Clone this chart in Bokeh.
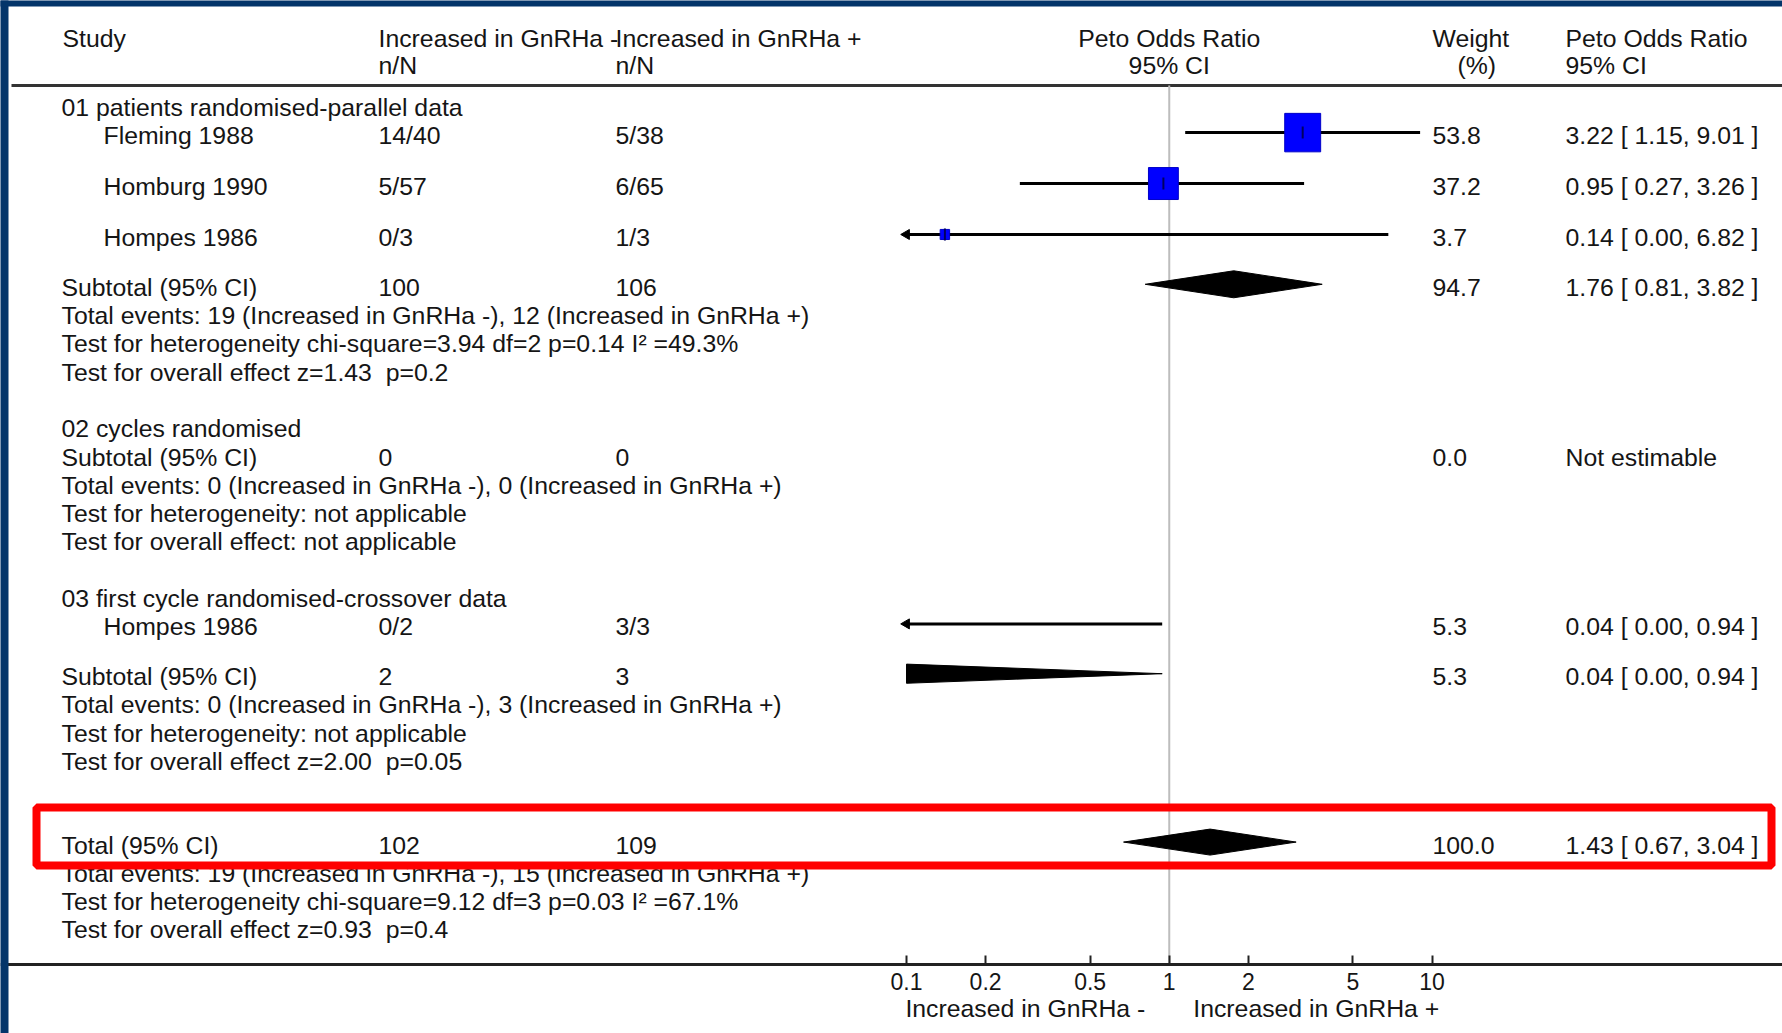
import math
from bokeh.plotting import figure
from bokeh.models import (Range1d, LogScale, LogAxis, FixedTicker,
                          CustomJSTickFormatter)
from bokeh.core.properties import value
from bokeh.embed import file_html
from bokeh.resources import INLINE

# ---------------- data ----------------
group_titles = ["01 patients randomised-parallel data",
                "02 cycles randomised",
                "03 first cycle randomised-crossover data"]

study_group = [0, 0, 0, 2]
study_names = ["Fleming 1988", "Homburg 1990", "Hompes 1986", "Hompes 1986"]
study_neg = ["14/40", "5/57", "0/3", "0/2"]
study_pos = ["5/38", "6/65", "1/3", "3/3"]
study_or = [3.22, 0.95, 0.14, 0.04]
study_lo = [1.15, 0.27, 0.00, 0.00]
study_hi = [9.01, 3.26, 6.82, 0.94]
study_weight = [53.8, 37.2, 3.7, 5.3]

sub_neg = ["100", "0", "2"]
sub_pos = ["106", "0", "3"]
sub_or = [1.76, None, 0.04]
sub_lo = [0.81, None, 0.00]
sub_hi = [3.82, None, 0.94]
sub_weight = [94.7, 0.0, 5.3]
sub_events_neg = [19, 0, 0]
sub_events_pos = [12, 0, 3]
sub_het = ["chi-square=3.94 df=2 p=0.14 I\u00b2 =49.3%", None, None]
sub_overall = ["z=1.43  p=0.2", None, "z=2.00  p=0.05"]

total_neg = "102"
total_pos = "109"
total_or = 1.43
total_lo = 0.67
total_hi = 3.04
total_weight = 100.0
total_events_neg = 19
total_events_pos = 15
total_het = "chi-square=9.12 df=3 p=0.03 I\u00b2 =67.1%"
total_overall = "z=0.93  p=0.4"

tick_values = [0.1, 0.2, 0.5, 1, 2, 5, 10]
tick_labels = ["0.1", "0.2", "0.5", "1", "2", "5", "10"]
favours = ["Increased in GnRHa -", "Increased in GnRHa +"]

# ---------------- layout ----------------
W, H = 1782, 1033
X01, X10 = 906.0, 1431.5          # pixel positions of 0.1 and 10
DEC = (X10 - X01) / 2.0
LOG_MIN, LOG_MAX = -1.0, 1.0
or_start = 10 ** (LOG_MIN - X01 / DEC)
or_end = 10 ** (LOG_MAX + (W - X10) / DEC)

FONT_NAME = "Liberation Sans"
FONT = value(FONT_NAME)
FS = value("24.8px")
TXT = "#151515"
BASE = 0.0      # svg text is centred on the given y
MARK = -3.0     # marks sit slightly above the text centre
L = 28.3

X_LBL, X_STUDY, X_NEG, X_POS, X_W, X_CI = 61, 103, 378, 615, 1432, 1565

p = figure(width=W, height=H, x_range=Range1d(0, W), y_range=Range1d(H, 0),
           output_backend="svg", toolbar_location=None, min_border=0,
           x_axis_location=None, y_axis_location=None)
p.outline_line_color = None
p.background_fill_color = "white"
p.border_fill_color = "white"
p.grid.visible = False
p.xgrid.visible = False
p.ygrid.visible = False
p.extra_x_ranges = {"or": Range1d(or_start, or_end)}
p.extra_x_scales = {"or": LogScale()}

# text collections
tx, ty, tt = [], [], []
cx, cy, ct = [], [], []


def sp(s):
    return s.replace("  ", "\u00a0\u00a0")


def put(x, y, s):
    tx.append(x); ty.append(y + BASE); tt.append(sp(s))


def fmt_ci(o, lo, hi):
    return f"{o:.2f} [ {lo:.2f}, {hi:.2f} ]"


# header
put(62, 37.5, "Study")
put(X_NEG, 37.5, favours[0])
put(X_NEG, 64.8, "n/N")
put(X_POS, 37.5, favours[1])
put(X_POS, 64.8, "n/N")
put(X_W, 37.5, "Weight")
put(1457, 64.8, "(%)")
put(X_CI, 37.5, "Peto Odds Ratio")
put(X_CI, 64.8, "95% CI")
cx += [1, 1]; cy += [37.5 + BASE, 64.8 + BASE]; ct += ["Peto Odds Ratio", "95% CI"]

# marks
sq_x, sq_y, sq_w, sq_h = [], [], [], []
ln_x0, ln_x1, ln_y = [], [], []
ar_x, ar_y = [], []
dia_xs, dia_ys = [], []


def clip_line(o, lo, hi, y):
    lo_c = max(lo, 10 ** LOG_MIN)
    hi_c = min(hi, 10 ** LOG_MAX)
    ln_x0.append(lo_c); ln_x1.append(hi_c); ln_y.append(y)
    if lo < 10 ** LOG_MIN:
        ar_x.append(10 ** LOG_MIN); ar_y.append(y)


def diamond(o, lo, hi, y, h):
    lg = lambda v: math.log10(max(v, 1e-4))
    pts = [(lg(lo), y), (lg(o), y - h), (lg(hi), y), (lg(o), y + h)]
    out = []
    for k in range(len(pts)):
        a, b = pts[k], pts[(k + 1) % len(pts)]
        ain, bin_ = a[0] >= LOG_MIN, b[0] >= LOG_MIN
        if ain:
            out.append(a)
        if ain != bin_:
            t = (LOG_MIN - a[0]) / (b[0] - a[0])
            out.append((LOG_MIN, a[1] + t * (b[1] - a[1])))
    dia_xs.append([10 ** q[0] for q in out])
    dia_ys.append([q[1] for q in out])


y = 106.8
for g, title in enumerate(group_titles):
    put(X_LBL, y, title)
    idx = [i for i in range(len(study_names)) if study_group[i] == g]
    for k, i in enumerate(idx):
        y += L if k == 0 else 1.8 * L
        put(X_STUDY, y, study_names[i])
        put(X_NEG, y, study_neg[i])
        put(X_POS, y, study_pos[i])
        put(X_W, y, f"{study_weight[i]:.1f}")
        put(X_CI, y, fmt_ci(study_or[i], study_lo[i], study_hi[i]))
        clip_line(study_or[i], study_lo[i], study_hi[i], y + MARK)
        if 10 ** LOG_MIN <= study_or[i] <= 10 ** LOG_MAX:
            w = 4.9 * math.sqrt(study_weight[i])
            sq_x.append(study_or[i]); sq_y.append(y + MARK)
            sq_w.append(w); sq_h.append(1.07 * w)
    y += 1.76 * L if idx else L
    put(X_LBL, y, "Subtotal (95% CI)")
    put(X_NEG, y, sub_neg[g])
    put(X_POS, y, sub_pos[g])
    put(X_W, y, f"{sub_weight[g]:.1f}")
    if sub_or[g] is None:
        put(X_CI, y, "Not estimable")
    else:
        put(X_CI, y, fmt_ci(sub_or[g], sub_lo[g], sub_hi[g]))
        diamond(sub_or[g], sub_lo[g], sub_hi[g], y + MARK, 13.5)
    y += L
    put(X_LBL, y, f"Total events: {sub_events_neg[g]} ({favours[0]}), "
                  f"{sub_events_pos[g]} ({favours[1]})")
    y += L
    put(X_LBL, y, "Test for heterogeneity " + sub_het[g] if sub_het[g]
        else "Test for heterogeneity: not applicable")
    y += L
    put(X_LBL, y, "Test for overall effect " + sub_overall[g] if sub_overall[g]
        else "Test for overall effect: not applicable")
    y += 2 * L

y += 0.95 * L
put(X_LBL, y, "Total (95% CI)")
put(X_NEG, y, total_neg)
put(X_POS, y, total_pos)
put(X_W, y, f"{total_weight:.1f}")
put(X_CI, y, fmt_ci(total_or, total_lo, total_hi))
diamond(total_or, total_lo, total_hi, y + MARK, 13.0)
y += L
put(X_LBL, y, f"Total events: {total_events_neg} ({favours[0]}), "
              f"{total_events_pos} ({favours[1]})")
y += L
put(X_LBL, y, "Test for heterogeneity " + total_het)
y += L
put(X_LBL, y, "Test for overall effect " + total_overall)

# ---- lines: header rule, reference line ----
p.segment(x0=[11], x1=[W], y0=[85], y1=[85], line_color="#333333", line_width=3)
p.segment(x0=[1], x1=[1], y0=[85], y1=[964], line_color="#bdbdbd",
          line_width=2, x_range_name="or")

# CI lines
p.segment(x0=ln_x0, x1=ln_x1, y0=ln_y, y1=ln_y, line_color="black",
          line_width=3, x_range_name="or")
p.scatter(x=ar_x, y=ar_y, marker="triangle", angle=math.pi / 2, size=10,
          fill_color="black", line_color="black", x_range_name="or")
# squares
p.rect(x=sq_x, y=sq_y, width=sq_w, height=sq_h, width_units="screen",
       height_units="screen", fill_color="#0000ff", line_color="#0000c8",
       line_width=1, x_range_name="or")
p.segment(x0=sq_x, x1=sq_x, y0=[v - 6 for v in sq_y], y1=[v + 6 for v in sq_y],
          line_color="#000060", line_width=2, x_range_name="or")
# diamonds
p.patches(xs=dia_xs, ys=dia_ys, fill_color="black", line_color="black",
          line_width=1, x_range_name="or")

# texts
p.text(x=tx, y=ty, text=tt, text_font=FONT, text_font_size=FS,
       text_color=TXT, text_align="left", text_baseline="alphabetic")
p.text(x=cx, y=cy, text=ct, text_font=FONT, text_font_size=FS,
       text_color=TXT, text_align="center", text_baseline="alphabetic",
       x_range_name="or")
p.text(x=[1, 1], y=[1008 + BASE] * 2, text=favours, x_offset=[-24, 24],
       text_font=FONT, text_font_size=FS, text_color=TXT,
       text_align=["right", "left"], text_baseline="alphabetic",
       x_range_name="or")

# axis
axis = LogAxis(x_range_name="or", fixed_location=964,
               ticker=FixedTicker(ticks=tick_values),
               formatter=CustomJSTickFormatter(
                   args=dict(vals=tick_values, labs=tick_labels),
                   code="const i = vals.findIndex(v => Math.abs(v - tick) < 1e-9);"
                        " return i >= 0 ? labs[i] : '';"),
               axis_line_color="#222222", axis_line_width=3,
               major_tick_in=9, major_tick_out=0, major_tick_line_width=2,
               major_tick_line_color="#222222", minor_tick_in=0, minor_tick_out=0,
               major_label_standoff=8,
               major_label_text_font=FONT_NAME, major_label_text_font_size="23px",
               major_label_text_color=TXT)
p.add_layout(axis, "below")

# highlight box
p.quad(left=[36], right=[1771], top=[807], bottom=[865], fill_alpha=0,
       line_color="#ff0000", line_width=8)

# navy frame strips
p.quad(left=[0, 0], right=[8, W], top=[0, 0], bottom=[H, 6],
       fill_color="#04356a", line_color=None, level="overlay")

open("out.html", "w").write(file_html(p, INLINE))
